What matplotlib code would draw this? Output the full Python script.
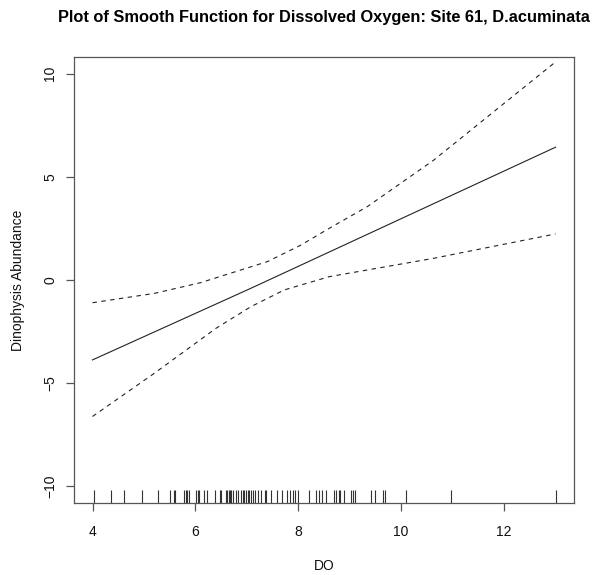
import matplotlib
matplotlib.use('Agg')
import matplotlib.pyplot as plt
import matplotlib.transforms as mtransforms
import numpy as np

plt.rcParams['font.family'] = ['Liberation Sans', 'DejaVu Sans']

# smooth term for DO with its confidence band
fit_x = [4.0, 7.08, 13.0]
fit_y = [-3.87, -0.40, 6.43]

upper_x = [4.0, 5.2, 6.1, 7.4, 8.05, 8.6, 9.34, 10.63, 13.0]
upper_y = [-1.10, -0.65, -0.13, 0.89, 1.69, 2.50, 3.55, 5.80, 10.56]

lower_x = [4.0, 5.2, 6.4, 7.08, 7.73, 8.6, 10.63, 13.0]
lower_y = [-6.61, -4.52, -2.34, -1.29, -0.48, 0.16, 1.05, 2.23]

# observed DO values (rug)
do_obs = [4.03, 4.35, 4.61, 4.97, 5.27, 5.50, 5.58, 5.61, 5.78, 5.81, 5.84, 5.87,
          6.02, 6.05, 6.07, 6.16, 6.22, 6.38, 6.47, 6.50, 6.59, 6.62, 6.65, 6.68,
          6.70, 6.73, 6.79, 6.82, 6.89, 6.92, 6.95, 6.99, 7.02, 7.05, 7.08, 7.12,
          7.15, 7.21, 7.28, 7.35, 7.37, 7.47, 7.58, 7.68, 7.79, 7.84, 7.89, 7.94,
          7.99, 8.21, 8.34, 8.41, 8.47, 8.53, 8.70, 8.73, 8.79, 8.82, 8.89, 9.03,
          9.07, 9.10, 9.41, 9.50, 9.65, 9.68, 10.10, 10.96, 13.01]

fig = plt.figure(figsize=(6, 5.75), dpi=100)
ax = fig.add_axes([0.1233, 0.1252, 0.8334, 0.7757])

line_col = '#222222'
ax.plot(fit_x, fit_y, color=line_col, lw=0.8)
ax.plot(upper_x, upper_y, color=line_col, lw=0.8, linestyle=(0, (4, 4)))
ax.plot(lower_x, lower_y, color=line_col, lw=0.8, linestyle=(0, (4, 4)))

# rug along the bottom, 3% of the panel height
trans = mtransforms.blended_transform_factory(ax.transData, ax.transAxes)
ax.vlines(do_obs, 0, 0.03, transform=trans, color='#333333', lw=0.8)

ax.set_xlim(3.64, 13.36)
ax.set_ylim(-10.8, 10.8)
ax.set_xticks([4, 6, 8, 10, 12])
ax.set_yticks([-10, -5, 0, 5, 10])
ax.set_yticklabels(['\u221210', '\u22125', '0', '5', '10'], rotation=90, va='center')

for s in ax.spines.values():
    s.set_color('#555555')
    s.set_linewidth(0.9)
ax.tick_params(direction='out', length=6, width=0.9, color='#555555',
               labelsize=10, labelcolor='#111111')
ax.tick_params(axis='x', pad=10)
ax.tick_params(axis='y', pad=6)

ax.set_xlabel('DO', fontsize=10, labelpad=14, color='#111111')
ax.set_ylabel('Dinophysis Abundance', fontsize=10, labelpad=13, color='#111111')
ax.set_title('Plot of Smooth Function for Dissolved Oxygen: Site 61, D.acuminata',
             fontsize=11.75, fontweight='bold', pad=25)

fig.savefig('out.png', dpi=100)
